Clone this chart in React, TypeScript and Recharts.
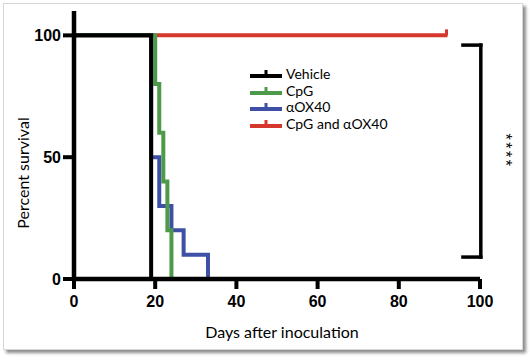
import React from 'react';
import { LineChart, Line, XAxis, YAxis, ReferenceLine } from 'recharts';

// ---- data ----
const vehicleDays = [0, 19];
const vehicleSurvival = [100, 0];
const cpgDays = [0, 20, 21, 22, 23, 24];
const cpgSurvival = [100, 80, 60, 40, 20, 0];
const aox40Days = [0, 19, 21, 24, 27, 33];
const aox40Survival = [100, 50, 30, 20, 10, 0];
const comboDays = [0, 92];
const comboSurvival = [100, 100];

const seriesNames = ['Vehicle', 'CpG', '\u03b1OX40', 'CpG and \u03b1OX40'];
const seriesColors = ['#000000', '#4c9a4a', '#3e50a6', '#d5372c'];

const xTicks = [0, 20, 40, 60, 80, 100];
const yTicks = [0, 50, 100];

// significance bracket (data units)
const bracketX = [95.8, 100.2];
const bracketY = [96, 9];
const significance = '****';

const zip = (d: number[], s: number[]) => d.map((day, i) => ({ day, s: s[i] }));
const vehicleData = zip(vehicleDays, vehicleSurvival);
const cpgData = zip(cpgDays, cpgSurvival);
const aox40Data = zip(aox40Days, aox40Survival);
const comboData = zip(comboDays, comboSurvival);

const tickFont = { fontFamily: '"Liberation Sans", Arial, sans-serif', fontWeight: 700, fontSize: 16, fill: '#000' };
const labelFont = 'Lato, "Open Sans", sans-serif';

const makeCensor = (color: string, lastIndex: number) => (props: any) => {
  const { cx, cy, index } = props;
  if (index !== lastIndex) return <g key={`c${index}`} />;
  return <path key={`c${index}`} d={`M${cx - 1},${cy} V${cy - 6}`} stroke={color} strokeWidth={3} fill="none" />;
};

const LegendIcon = ({ color }: { color: string }) => (
  <svg width={34} height={12} style={{ display: 'block' }}>
    <line x1={1} y1={8} x2={33} y2={8} stroke={color} strokeWidth={4} />
    <line x1={17} y1={8} x2={17} y2={2} stroke={color} strokeWidth={3} />
  </svg>
);

export default function App() {
  return (
    <div style={{ position: 'absolute', left: 0, top: 0, width: 530, height: 359, background: '#fff' }}>
      <div
        style={{
          position: 'absolute', left: 3, top: 3, width: 518, height: 345,
          border: '1px solid #d6d6d6', boxShadow: '3px 3px 3px rgba(0,0,0,0.45)', background: '#fff',
        }}
      />
      <div style={{ position: 'absolute', left: 0, top: 0 }}>
        <LineChart width={530} height={359} margin={{ top: 11, right: 50, bottom: 0, left: 0 }}>
          <XAxis
            type="number"
            dataKey="day"
            domain={[0, 100]}
            ticks={xTicks}
            allowDataOverflow
            axisLine={{ stroke: '#000', strokeWidth: 4.5 }}
            tickLine={{ stroke: '#000', strokeWidth: 4 }}
            tickSize={10}
            tickMargin={7}
            tick={tickFont}
            height={80}
            label={({ viewBox }: any) => {
              const x = viewBox.x + viewBox.width / 2 + 5;
              const y = viewBox.y + viewBox.height - 21;
              return (
                <text x={x} y={y} textAnchor="middle"
                  style={{ fontFamily: labelFont, fontSize: 16, fill: '#000' }}>Days after inoculation</text>
              );
            }}
          />
          <YAxis
            type="number"
            domain={[0, 110]}
            ticks={yTicks}
            allowDataOverflow
            axisLine={{ stroke: '#000', strokeWidth: 4.5 }}
            tickLine={{ stroke: '#000', strokeWidth: 4 }}
            tickSize={11}
            tickMargin={2}
            tick={tickFont}
            width={74}
            label={({ viewBox }: any) => {
              const x = viewBox.x + 22;
              const y = viewBox.y + viewBox.height / 2 + 28;
              return (
                <text x={x} y={y} transform={`rotate(-90, ${x}, ${y})`} textAnchor="middle" dominantBaseline="central"
                  style={{ fontFamily: labelFont, fontSize: 16, fill: '#000' }}>Percent survival</text>
              );
            }}
          />
          <Line data={comboData} dataKey="s" type="stepAfter" stroke={seriesColors[3]} strokeWidth={4}
            dot={makeCensor(seriesColors[3], comboData.length - 1)} activeDot={false} isAnimationActive={false} />
          <Line data={aox40Data} dataKey="s" type="stepAfter" stroke={seriesColors[2]} strokeWidth={4}
            dot={false} activeDot={false} isAnimationActive={false} />
          <Line data={cpgData} dataKey="s" type="stepAfter" stroke={seriesColors[1]} strokeWidth={4}
            dot={false} activeDot={false} isAnimationActive={false} />
          <Line data={vehicleData} dataKey="s" type="stepAfter" stroke={seriesColors[0]} strokeWidth={4}
            dot={false} activeDot={false} isAnimationActive={false} />
          <ReferenceLine ifOverflow="visible" stroke="#000" strokeWidth={3.5} strokeLinecap="square"
            segment={[{ x: bracketX[0], y: bracketY[0] }, { x: bracketX[1], y: bracketY[0] }]} />
          <ReferenceLine ifOverflow="visible" stroke="#000" strokeWidth={3.5} strokeLinecap="square"
            segment={[{ x: bracketX[0], y: bracketY[1] }, { x: bracketX[1], y: bracketY[1] }]} />
          <ReferenceLine ifOverflow="visible" stroke="#000" strokeWidth={3.5} strokeLinecap="square"
            segment={[{ x: bracketX[1], y: bracketY[0] }, { x: bracketX[1], y: bracketY[1] }]}
            label={({ viewBox }: any) => {
              const x = viewBox.x + viewBox.width + 25;
              const y = viewBox.y + viewBox.height / 2;
              return (
                <text x={x} y={y} transform={`rotate(90, ${x}, ${y})`} textAnchor="middle" dominantBaseline="central"
                  style={{ fontFamily: '"Liberation Sans", Arial, sans-serif', fontSize: 16, letterSpacing: 2.5, fill: '#000' }}>{significance}</text>
              );
            }}
          />
        </LineChart>
      </div>
      <div style={{ position: 'absolute', left: 249, top: 66, fontFamily: labelFont, fontSize: 14, color: '#000', lineHeight: '16.5px' }}>
        {seriesNames.map((n, i) => (
          <div key={n} style={{ display: 'flex', alignItems: 'center', height: 16.5 }}>
            <LegendIcon color={seriesColors[i]} />
            <span style={{ marginLeft: 3 }}>{n}</span>
          </div>
        ))}
      </div>
    </div>
  );
}
